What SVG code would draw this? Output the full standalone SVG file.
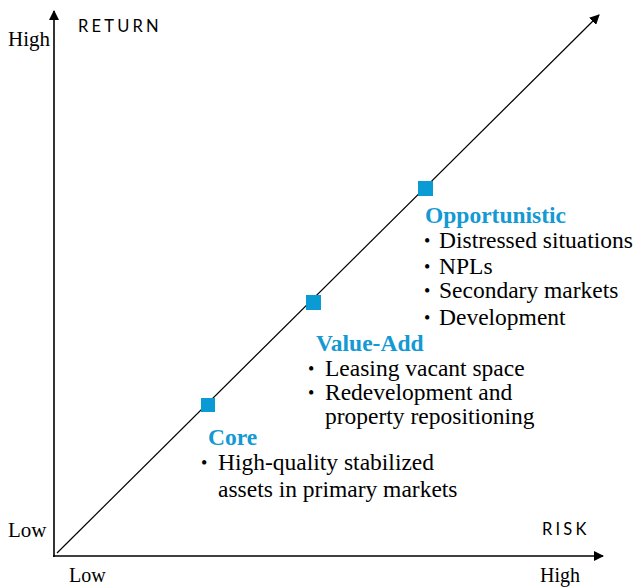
<svg xmlns="http://www.w3.org/2000/svg" width="639" height="588" viewBox="0 0 639 588">
<style>
.ax{font-family:"Liberation Serif",serif;font-size:21px;fill:#000}
.axb{font-family:"Liberation Serif",serif;font-size:20px;fill:#000}
.lab{font-family:Lato,"Open Sans",sans-serif;font-size:16.5px;letter-spacing:3.2px;fill:#000}
.h{font-family:"Liberation Serif",serif;font-size:23.5px;font-weight:bold;fill:#1399d3}
.t{font-family:"Liberation Serif",serif;font-size:23.5px;fill:#000}
.b{font-family:"Liberation Serif",serif;font-size:18px;fill:#000}
.sq{fill:#0a9bd4}
</style>
<defs>
<marker id="ah" viewBox="0 0 10 10" refX="9" refY="5" markerWidth="10" markerHeight="10" markerUnits="userSpaceOnUse" orient="auto">
<path d="M0,0 L10,5 L0,10 z" fill="#000"/>
</marker>
</defs>
<g id="connectors" stroke="#000" fill="none">
<line x1="54" y1="557" x2="54" y2="11" stroke-width="1.6" marker-end="url(#ah)"/>
<line x1="53" y1="556" x2="603" y2="556" stroke-width="1.6" marker-end="url(#ah)"/>
<line x1="57" y1="553" x2="599" y2="15" stroke-width="1.2" marker-end="url(#ah)"/>
</g>
<g id="axis-labels">
<text class="ax" x="8" y="46">High</text>
<text class="lab" x="78" y="32">RETURN</text>
<text class="ax" x="8" y="537">Low</text>
<text class="lab" x="542" y="535">RISK</text>
<text class="axb" x="69" y="582">Low</text>
<text class="axb" x="540" y="582">High</text>
</g>
<g id="core">
<rect class="sq" x="201" y="398" width="14" height="14"/>
<text class="h" x="208" y="445">Core</text>
<text class="b" x="201" y="469">•</text>
<text class="t" x="218" y="470">High-quality stabilized</text>
<text class="t" x="218" y="497">assets in primary markets</text>
</g>
<g id="value-add">
<rect class="sq" x="306" y="295" width="15" height="15"/>
<text class="h" x="316" y="351">Value-Add</text>
<text class="b" x="308" y="375">•</text>
<text class="t" x="325" y="376">Leasing vacant space</text>
<text class="b" x="308" y="399">•</text>
<text class="t" x="325" y="400">Redevelopment and</text>
<text class="t" x="325" y="424">property repositioning</text>
</g>
<g id="opportunistic">
<rect class="sq" x="418" y="181" width="15" height="15"/>
<text class="h" x="425" y="223">Opportunistic</text>
<text class="b" x="424" y="247">•</text>
<text class="t" x="439" y="248">Distressed situations</text>
<text class="b" x="424" y="273">•</text>
<text class="t" x="439" y="274">NPLs</text>
<text class="b" x="424" y="297">•</text>
<text class="t" x="439" y="298">Secondary markets</text>
<text class="b" x="424" y="324">•</text>
<text class="t" x="439" y="325">Development</text>
</g>
</svg>
